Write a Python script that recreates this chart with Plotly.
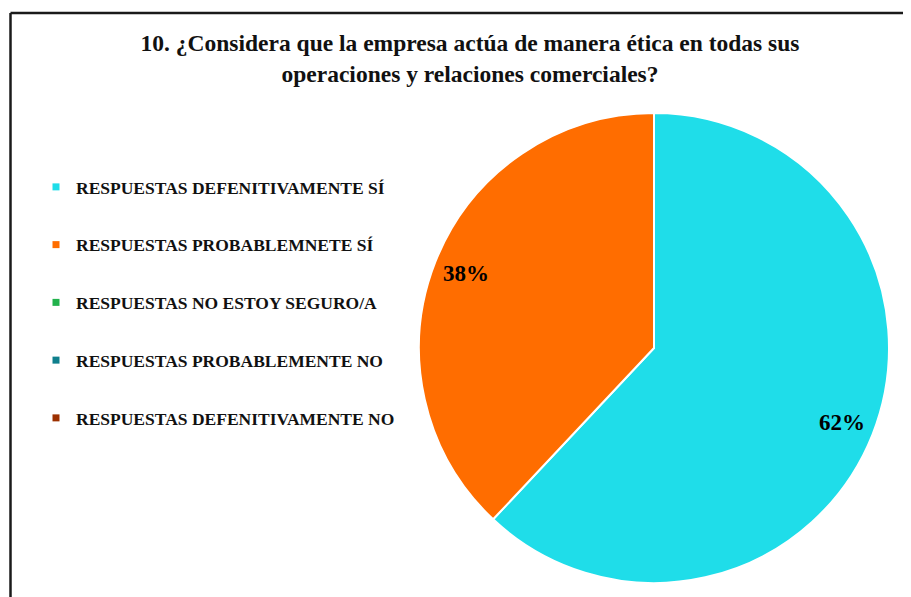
import plotly.graph_objects as go

categories = [
    "RESPUESTAS DEFENITIVAMENTE SÍ",
    "RESPUESTAS PROBABLEMNETE SÍ",
    "RESPUESTAS NO ESTOY SEGURO/A",
    "RESPUESTAS PROBABLEMENTE NO",
    "RESPUESTAS DEFENITIVAMENTE NO",
]
values = [62, 38, 0, 0, 0]
colors = ["#1FDDE9", "#FF6D00", "#22B24C", "#0F7F8C", "#9C3000"]
title_text = ("10. ¿Considera que la empresa actúa de manera ética en todas sus<br>"
              "operaciones y relaciones comerciales?")

# page body has an 8px margin; figure sized to fit the window
OFF = 8
W, H = 911 - OFF, 597 - OFF
serif = "Liberation Serif, Times New Roman, serif"


def px(x):
    return (x - OFF) / W


def py(y):
    return 1 - (y - OFF) / H


fig = go.Figure()

pie_domain = dict(x=[px(419), px(889)], y=[py(583), py(113)])

fig.add_trace(go.Pie(
    labels=categories, values=values, sort=False, direction="clockwise", rotation=0,
    marker=dict(colors=colors, line=dict(color="white", width=2)),
    textinfo="none", hoverinfo="label+percent", showlegend=False,
    domain=pie_domain,
))

nz_labels = [c for c, v in zip(categories, values) if v > 0]
nz_values = [v for v in values if v > 0]
fig.add_trace(go.Pie(
    labels=nz_labels, values=nz_values, sort=False, direction="clockwise", rotation=0,
    hole=0.72,
    marker=dict(colors=["rgba(0,0,0,0)"] * len(nz_values), line=dict(width=0)),
    textinfo="percent", textposition="inside", insidetextorientation="horizontal",
    texttemplate="%{percent:.0%}",
    textfont=dict(family=serif, size=23, color="black", weight="bold"),
    hoverinfo="skip", showlegend=False, domain=pie_domain,
))

for i, (c, col) in enumerate(zip(categories, colors)):
    fig.add_trace(go.Scatter(
        x=[None], y=[None], mode="markers", name=c,
        marker=dict(symbol="square", size=7, color=col),
        legendgroup=f"g{i}", showlegend=True,
    ))

fig.update_layout(
    width=W, height=H,
    margin=dict(l=0, r=0, t=0, b=0),
    paper_bgcolor="white", plot_bgcolor="white",
    xaxis=dict(visible=False), yaxis=dict(visible=False),
    title=dict(text=title_text, x=px(470), xanchor="center", y=py(51), yanchor="top",
               font=dict(family=serif, size=23.5, color="#111", weight="bold")),
    legend=dict(x=px(36), xanchor="left", y=py(169), yanchor="top",
                font=dict(family=serif, size=17.5, color="#111", weight="bold"),
                tracegroupgap=32, bgcolor="rgba(0,0,0,0)"),
    shapes=[
        dict(type="line", xref="paper", yref="paper", x0=px(10.5), x1=1.01, y0=py(13), y1=py(13),
             line=dict(color="#1a1a1a", width=2.5)),
        dict(type="line", xref="paper", yref="paper", x0=px(10.5), x1=px(10.5), y0=py(13), y1=-0.01,
             line=dict(color="#1a1a1a", width=2.5)),
    ],
)

fig.write_html("out.html")
